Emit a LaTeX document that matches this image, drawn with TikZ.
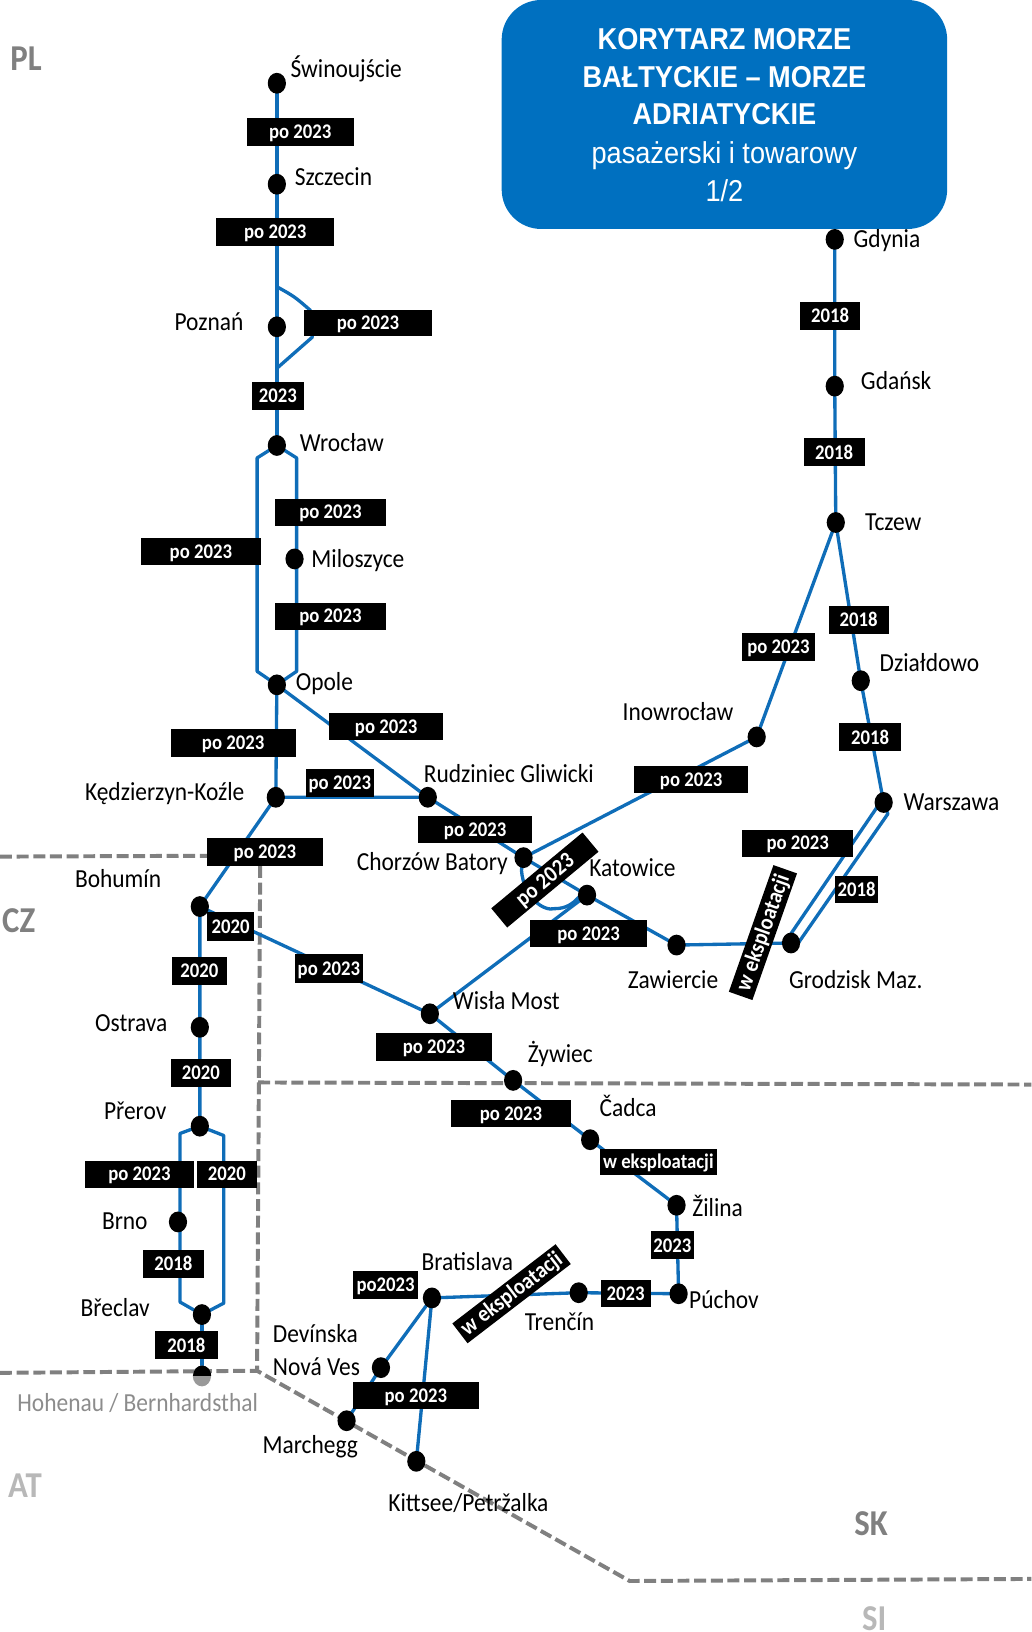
\documentclass[tikz,border=0pt]{standalone}
\usepackage{fontspec}
\usetikzlibrary{shapes.geometric,backgrounds}
\setmainfont{Carlito}
\newfontfamily\stfont[FakeStretch=0.9]{Carlito}
\newfontfamily\hdfont[FakeStretch=0.9]{Liberation Sans}
\definecolor{railblue}{HTML}{0F6DB8}
\definecolor{headblue}{HTML}{0070C0}
\definecolor{bordergray}{HTML}{808080}
\newcommand\yearbox[6]{\node[yearlab,minimum width={#3-#2},minimum height={#5-#4}] (#1) at ({(#2+#3)/2},{(#4+#5)/2}) {#6};}
\tikzset{
  dot/.style={ellipse,fill=black,minimum width=17.5pt,minimum height=20pt,inner sep=0pt},
  rail/.style={draw=railblue,line width=3.2pt,line join=round},
  borderline/.style={draw=bordergray,line width=3.8pt,dash pattern=on 11.5pt off 4.5pt},
  yearlab/.style={fill=black,text=white,inner sep=0pt,font=\stfont\bfseries\fontsize{20}{22}\selectfont,text height=14pt,text depth=1pt},
  rotlab/.style={yearlab,font=\stfont\bfseries\fontsize{22}{24}\selectfont},
  st/.style={inner sep=0pt,font=\stfont\fontsize{25}{28}\selectfont,text=black,text height=19pt,text depth=2pt},
  country/.style={inner sep=0pt,font=\stfont\bfseries\fontsize{35}{38}\selectfont},
  hd/.style={inner sep=0pt,text=white,font=\hdfont\bfseries\fontsize{29}{32}\selectfont},
  hdthin/.style={inner sep=0pt,text=white,font=\hdfont\fontsize{29}{32}\selectfont}
}
\begin{document}
\begin{tikzpicture}[x=1pt,y=-1pt]
\useasboundingbox (0,0) rectangle (991,1568);
% header
\node[fill=headblue,rounded corners=38pt,minimum width=428pt,minimum height=220pt,inner sep=0pt] (head) at (696,110) {};
\node[hd] (h1) at (696,38) {KORYTARZ MORZE};
\node[hd] (h2) at (696,74) {BAŁTYCKIE – MORZE};
\node[hd] (h3) at (696,110) {ADRIATYCKIE};
\node[hdthin] (h4) at (696,150) {pasażerski i towarowy};
\node[hdthin] (h5) at (696,183) {1/2};
% stations
\foreach \n/\x/\y in {swi/266/80,szc/266/177,poz/266/314,wro/266/428,mil/283/537,opo/266/658,kk/265/766,rud/411/766,boh/192/871,ost/192/987,pre/192/1082,brn/171/1174,bre/194/1263,chb/503/824,kat/564/860,zaw/650/908,gro/760/906,war/849/771,ino/727/708,tcz/803/502,dzi/827/654,gda/802/371,gdy/802/230,wis/413/974,zyw/493/1038,cad/567/1095,zil/650/1158,puc/652/1243,tre/556/1242,bra/415/1247,dev/366/1314,mar/333/1365,kit/400/1404}
  {\node[dot] (\n) at (\x,\y) {};}
\node[dot,fill=black!40] (hoh) at (194,1322) {};
\fill[black] (hoh.east) arc[x radius=8.75pt,y radius=10pt,start angle=0,end angle=180] -- cycle;
\foreach \n/\x/\y in {pa/267/276,pb/298/298,pc/300/324,pd/267/353,wl/247/440,wr/285/440,ol/247/645,orr/285/645,pl/173/1089,prr/215/1091,bl/173/1251,brr/215/1252,da/843/775,db/760/897,dc/853/782,dd/767/906,ca/501/836,cb/533/873,cc/556/862}
  {\coordinate (\n) at (\x,\y);}
\begin{scope}[on background layer]
  % borders
  \path[borderline] (0,823) -- (250,822);
  \path[borderline] (250,832) -- (247,1316);
  \path[borderline] (248,1040) -- (991,1042);
  \path[borderline] (0,1319) -- (247,1317) -- (605,1519) -- (991,1517);
  % rails
  \path[rail] (swi.center) -- (szc.center) -- (poz.center) -- (wro.center);
  \path[rail] (pa) .. controls (283,285) .. (pb) -- (pc) -- (pd);
  \path[rail] (wro.center) -- (wl) -- (ol) -- (opo.center);
  \path[rail] (wro.center) -- (wr) -- (orr) -- (opo.center);
  \path[rail] (opo.center) -- (kk.center) -- (rud.center) -- (chb.center) -- (kat.center) -- (zaw.center) -- (gro.center);
  \path[rail] (opo.center) -- (rud.center);
  \path[rail] (kk.center) -- (boh.center) -- (ost.center) -- (pre.center);
  \path[rail] (pre.center) -- (pl) -- (bl) -- (bre.center);
  \path[rail] (pre.center) -- (prr) -- (brr) -- (bre.center);
  \path[rail] (bre.center) -- (hoh.center);
  \path[rail] (boh.center) -- (wis.center) -- (zyw.center) -- (cad.center) -- (zil.center) -- (puc.center) -- (tre.center) -- (bra.center) -- (dev.center) -- (mar.center);
  \path[rail] (wis.center) -- (kat.center);
  \path[rail] (bra.center) -- (kit.center);
  \path[rail] (chb.center) -- (ca) .. controls (503,862) and (522,876) .. (cb) .. controls (543,873) and (550,869) .. (cc);
  \path[rail] (chb.center) -- (ino.center) -- (tcz.center) -- (dzi.center) -- (war.center);
  \path[rail] (tcz.center) -- (gda.center) -- (gdy.center);
  \path[rail] (war.center) -- (da) -- (db) -- (gro.center);
  \path[rail] (war.center) -- (dc) -- (dd) -- (gro.center);
\end{scope}
% year labels
\yearbox{y1}{237}{340}{113}{140}{po 2023}
\yearbox{y2}{208}{321}{209}{236}{po 2023}
\yearbox{y3}{292}{415}{298}{323}{po 2023}
\yearbox{y4}{242}{292}{367}{394}{2023}
\yearbox{y5}{264}{371}{479}{505}{po 2023}
\yearbox{y6}{135}{251}{517}{543}{po 2023}
\yearbox{y7}{264}{371}{579}{605}{po 2023}
\yearbox{y8}{164}{284}{700}{727}{po 2023}
\yearbox{y9}{316}{426}{685}{711}{po 2023}
\yearbox{y10}{294}{359}{739}{766}{po 2023}
\yearbox{y11}{402}{511}{784}{810}{po 2023}
\yearbox{y12}{199}{310}{805}{832}{po 2023}
\yearbox{y13}{199}{244}{876}{904}{2020}
\yearbox{y14}{165}{218}{919}{946}{2020}
\yearbox{y15}{283}{349}{917}{944}{po 2023}
\yearbox{y16}{361}{473}{992}{1019}{po 2023}
\yearbox{y17}{433}{549}{1057}{1083}{po 2023}
\yearbox{y18}{164}{222}{1017}{1044}{2020}
\yearbox{y19}{82}{186}{1115}{1141}{po 2023}
\yearbox{y20}{189}{247}{1115}{1141}{2020}
\yearbox{y21}{137}{196}{1201}{1228}{2018}
\yearbox{y22}{149}{209}{1279}{1306}{2018}
\yearbox{y23}{576}{689}{1104}{1129}{w eksploatacji}
\yearbox{y24}{625}{667}{1183}{1210}{2023}
\yearbox{y25}{577}{625}{1230}{1256}{2023}
\yearbox{y26}{339}{402}{1221}{1248}{po2023}
\yearbox{y27}{339}{460}{1328}{1354}{po 2023}
\yearbox{y28}{609}{719}{736}{762}{po 2023}
\yearbox{y29}{713}{820}{797}{823}{po 2023}
\yearbox{y30}{509}{622}{884}{910}{po 2023}
\yearbox{y31}{802}{844}{842}{868}{2018}
\yearbox{y32}{806}{866}{695}{722}{2018}
\yearbox{y33}{796}{854}{582}{609}{2018}
\yearbox{y34}{772}{831}{421}{448}{2018}
\yearbox{y35}{769}{826}{290}{317}{2018}
\yearbox{y36}{713}{783}{608}{635}{po 2023}
\node[rotlab,rotate=39.7,minimum width=114pt,minimum height=24pt] (r1) at (523.5,845.5) {po 2023};
\node[rotlab,rotate=70.6,minimum width=129pt,minimum height=24pt] (r2) at (733,896) {w eksploatacji};
\node[rotlab,rotate=37.5,minimum width=125pt,minimum height=24pt] (r3) at (491.5,1243) {w eksploatacji};
% station names
\node[st,anchor=west] (t1) at (279,66) {Świnoujście};
\node[st,anchor=west] (t2) at (283,170) {Szczecin};
\node[st,anchor=east] (t3) at (234,309) {Poznań};
\node[st,anchor=west] (t4) at (288,425) {Wrocław};
\node[st,anchor=west] (t5) at (299,537) {Miloszyce};
\node[st,anchor=west] (t6) at (284,655) {Opole};
\node[st,anchor=east] (t7) at (235,761) {Kędzierzyn-Koźle};
\node[st,anchor=west] (t8) at (407,743) {Rudziniec Gliwicki};
\node[st,anchor=east] (t9) at (488,828) {Chorzów Batory};
\node[st,anchor=west] (t10) at (566,834) {Katowice};
\node[st,anchor=east] (t11) at (155,844) {Bohumín};
\node[st,anchor=east] (t12) at (161,983) {Ostrava};
\node[st,anchor=east] (t13) at (160,1067) {Přerov};
\node[st,anchor=east] (t14) at (142,1173) {Brno};
\node[st,anchor=east] (t15) at (144,1256) {Břeclav};
\node[st,anchor=east,text=black!45] (t16) at (248,1348) {Hohenau / Bernhardsthal};
\node[st,anchor=west] (t17) at (262,1281) {Devínska};
\node[st,anchor=west] (t18) at (262,1313) {Nová Ves};
\node[st,anchor=east] (t19) at (344,1388) {Marchegg};
\node[st,anchor=west] (t20) at (373,1444) {Kittsee/Petržalka};
\node[st,anchor=west] (t21) at (405,1212) {Bratislava};
\node[st,anchor=west] (t22) at (504,1270) {Trenčín};
\node[st,anchor=west] (t23) at (662,1249) {Púchov};
\node[st,anchor=west] (t24) at (665,1160) {Žilina};
\node[st,anchor=west] (t25) at (576,1064) {Čadca};
\node[st,anchor=west] (t26) at (507,1012) {Żywiec};
\node[st,anchor=west] (t27) at (435,961) {Wisła Most};
\node[st,anchor=west] (t28) at (603,941) {Zawiercie};
\node[st,anchor=west] (t29) at (758,941) {Grodzisk Maz.};
\node[st,anchor=west] (t30) at (868,770) {Warszawa};
\node[st,anchor=west] (t31) at (598,684) {Inowrocław};
\node[st,anchor=west] (t32) at (831,501) {Tczew};
\node[st,anchor=west] (t33) at (845,637) {Działdowo};
\node[st,anchor=west] (t34) at (827,366) {Gdańsk};
\node[st,anchor=west] (t35) at (820,229) {Gdynia};
% countries
\node[country,text=bordergray] (c1) at (25,56) {PL};
\node[country,text=bordergray] (c2) at (18,885) {CZ};
\node[country,text=black!28] (c3) at (24,1427) {AT};
\node[country,text=bordergray] (c4) at (837,1464) {SK};
\node[country,text=black!28] (c5) at (840,1555) {SI};
\end{tikzpicture}
\end{document}
